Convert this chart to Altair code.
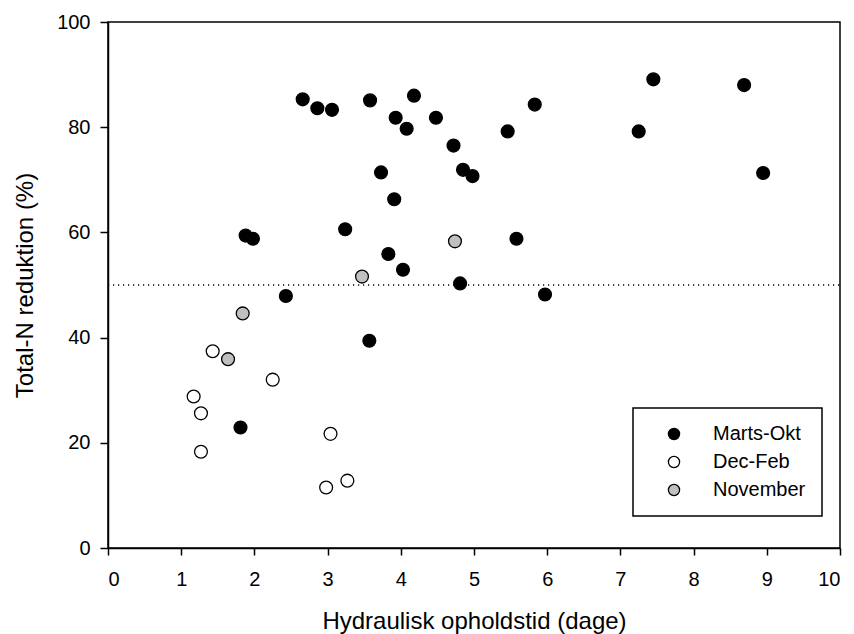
import altair as alt
import pandas as pd

# Marts-Okt (filled black)
marts_x = [2.66, 2.86, 3.06, 3.58, 4.18, 3.93, 4.48, 4.08, 4.72, 3.73, 4.85, 4.98, 3.91,
           1.88, 1.98, 3.24, 3.83, 4.03, 4.81, 2.43, 7.45, 8.69, 5.83, 5.46, 7.25, 8.95,
           5.58, 5.97, 3.57, 1.81]
marts_y = [85.3, 83.6, 83.3, 85.1, 86.0, 81.8, 81.8, 79.7, 76.5, 71.4, 71.9, 70.7, 66.3,
           59.4, 58.8, 60.6, 55.9, 52.9, 50.3, 47.9, 89.1, 88.0, 84.3, 79.2, 79.2, 71.3,
           58.8, 48.2, 39.4, 22.9]
# Dec-Feb (open)
decfeb_x = [1.43, 2.25, 1.17, 1.27, 3.04, 1.27, 3.27, 2.98]
decfeb_y = [37.4, 32.0, 28.8, 25.6, 21.7, 18.3, 12.8, 11.5]
# November (grey)
nov_x = [4.74, 3.47, 1.84, 1.64]
nov_y = [58.3, 51.6, 44.6, 35.9]

groups = ["Marts-Okt", "Dec-Feb", "November"]
fills = ["#000000", "#ffffff", "#c0c0c0"]
x_ticks = list(range(0, 11))
y_ticks = [0, 20, 40, 60, 80, 100]
ref_level = 50

rows = []
for name, xs, ys in [("Marts-Okt", marts_x, marts_y), ("Dec-Feb", decfeb_x, decfeb_y),
                     ("November", nov_x, nov_y)]:
    for a, b in zip(xs, ys):
        rows.append({"x": a, "y": b, "group": name})
df = pd.DataFrame(rows)
ref_df = pd.DataFrame({"y": [ref_level], "x": [0], "x2": [10]})

FONT = "Liberation Sans"

xscale = alt.Scale(domain=[0, 10], nice=False)
yscale = alt.Scale(domain=[0, 100], nice=False)

points = alt.Chart(df).mark_point(
    filled=True, size=165, stroke="black", strokeWidth=1.3, opacity=1
).encode(
    x=alt.X("x:Q", scale=xscale,
            axis=alt.Axis(values=x_ticks, format="d", title="Hydraulisk opholdstid (dage)",
                          tickSize=7, labelPadding=14, titleX=366, titleY=80,
                          titleAlign="center", titleBaseline="alphabetic")),
    y=alt.Y("y:Q", scale=yscale,
            axis=alt.Axis(values=y_ticks, format="d", title="Total-N reduktion (%)",
                          tickSize=8, labelPadding=10, titleX=-76, titleY=263,
                          titleAngle=270, titleAlign="center",
                          titleBaseline="alphabetic")),
    fill=alt.Fill("group:N", sort=groups,
                  scale=alt.Scale(domain=groups, range=fills),
                  legend=alt.Legend(title=None, orient="none", legendX=525, legendY=386,
                                    padding=16, rowPadding=8, symbolOffset=15,
                                    labelOffset=29, symbolSize=125,
                                    symbolType="circle",
                                    symbolStrokeColor="black", symbolStrokeWidth=1.3,
                                    strokeColor="black", fillColor="white",
                                    labelFontSize=20, labelFont=FONT,
                                    labelColor="black")),
)

ref = alt.Chart(ref_df).mark_rule(
    color="black", strokeDash=[1.2, 3.8], strokeWidth=1.3
).encode(
    x=alt.X("x:Q", scale=xscale),
    x2="x2:Q",
    y=alt.Y("y:Q", scale=yscale),
)

chart = alt.layer(ref, points).properties(
    width=732, height=526,
    autosize=alt.AutoSizeParams(type="none"),
    padding={"left": 108, "top": 22, "right": 14, "bottom": 86},
    background="white",
).configure_view(
    stroke="black", strokeWidth=1.5
).configure_axis(
    grid=False, domainColor="black", domainWidth=1.5, tickColor="black",
    tickWidth=1.5, labelColor="black", labelFont=FONT, labelFontSize=20,
    titleFont=FONT, titleFontSize=24, titleFontWeight="normal", titleColor="black"
).configure_legend(
    strokeWidth=1.5
)

chart.save("out.html", embed_options={"renderer": "svg", "actions": False})
